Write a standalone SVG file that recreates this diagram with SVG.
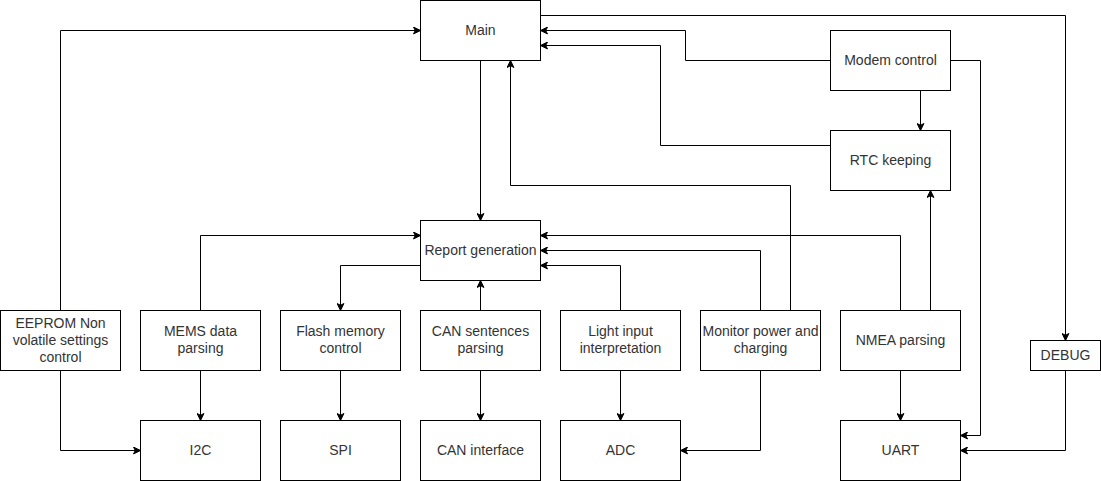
<svg xmlns="http://www.w3.org/2000/svg" width="1101" height="481" viewBox="0 0 1101 481">
<style>
.box{fill:#fff;stroke:#000;stroke-width:1}
.lbl{font-family:"Liberation Sans",Arial,Helvetica,sans-serif;font-size:14px;fill:#333;text-anchor:middle}
.edge{fill:none;stroke:#000;stroke-width:1;marker-end:url(#arr)}
</style>
<defs>
<marker id="arr" viewBox="0 0 8 8" refX="7.5" refY="4" markerWidth="8" markerHeight="8" markerUnits="userSpaceOnUse" orient="auto">
<path d="M0.5,0.6 L7.5,4 L0.5,7.4 L2.3,4 Z" fill="#000" stroke="#000" stroke-width="1"/>
</marker>
</defs>
<rect width="1101" height="481" fill="#fff"/>
<g transform="translate(0.5,0.5)">
<g id="connectors">
<path class="edge" d="M60,310 V30 H420"/>
<path class="edge" d="M540,15 H1065 V340"/>
<path class="edge" d="M830,60 H685 V30 H540"/>
<path class="edge" d="M830,145 H660 V45 H540"/>
<path class="edge" d="M920,90 V130"/>
<path class="edge" d="M950,60 H980 V435 H960"/>
<path class="edge" d="M480,60 V220"/>
<path class="edge" d="M790,310 V185 H510 V60"/>
<path class="edge" d="M930,310 V190"/>
<path class="edge" d="M900,310 V235 H540"/>
<path class="edge" d="M760,310 V250 H540"/>
<path class="edge" d="M620,310 V265 H540"/>
<path class="edge" d="M200,310 V235 H420"/>
<path class="edge" d="M420,265 H340 V310"/>
<path class="edge" d="M480,310 V280"/>
<path class="edge" d="M200,370 V420"/>
<path class="edge" d="M340,370 V420"/>
<path class="edge" d="M480,370 V420"/>
<path class="edge" d="M620,370 V420"/>
<path class="edge" d="M760,370 V450 H680"/>
<path class="edge" d="M900,370 V420"/>
<path class="edge" d="M1065,370 V450 H960"/>
<path class="edge" d="M60,370 V450 H140"/>
</g>
<g id="main"><rect class="box" x="420" y="0" width="120" height="60"/><text class="lbl" x="480" y="34">Main</text></g>
<g id="modem"><rect class="box" x="830" y="30" width="120" height="60"/><text class="lbl" x="890" y="64">Modem control</text></g>
<g id="rtc"><rect class="box" x="830" y="130" width="120" height="60"/><text class="lbl" x="890" y="164">RTC keeping</text></g>
<g id="report"><rect class="box" x="420" y="220" width="120" height="60"/><text class="lbl" x="480" y="254">Report generation</text></g>
<g id="eeprom"><rect class="box" x="0" y="310" width="120" height="60"/><text class="lbl" x="60" y="327">EEPROM Non</text><text class="lbl" x="60" y="344">volatile settings</text><text class="lbl" x="60" y="361">control</text></g>
<g id="mems"><rect class="box" x="140" y="310" width="120" height="60"/><text class="lbl" x="200" y="335.6">MEMS data</text><text class="lbl" x="200" y="352.4">parsing</text></g>
<g id="flash"><rect class="box" x="280" y="310" width="120" height="60"/><text class="lbl" x="340" y="335.6">Flash memory</text><text class="lbl" x="340" y="352.4">control</text></g>
<g id="cansent"><rect class="box" x="420" y="310" width="120" height="60"/><text class="lbl" x="480" y="335.6">CAN sentences</text><text class="lbl" x="480" y="352.4">parsing</text></g>
<g id="light"><rect class="box" x="560" y="310" width="120" height="60"/><text class="lbl" x="620" y="335.6">Light input</text><text class="lbl" x="620" y="352.4">interpretation</text></g>
<g id="monitor"><rect class="box" x="700" y="310" width="120" height="60"/><text class="lbl" x="760" y="335.6">Monitor power and</text><text class="lbl" x="760" y="352.4">charging</text></g>
<g id="nmea"><rect class="box" x="840" y="310" width="120" height="60"/><text class="lbl" x="900" y="344">NMEA parsing</text></g>
<g id="debug"><rect class="box" x="1030" y="340" width="70" height="30"/><text class="lbl" x="1065" y="359">DEBUG</text></g>
<g id="i2c"><rect class="box" x="140" y="420" width="120" height="60"/><text class="lbl" x="200" y="454">I2C</text></g>
<g id="spi"><rect class="box" x="280" y="420" width="120" height="60"/><text class="lbl" x="340" y="454">SPI</text></g>
<g id="caniface"><rect class="box" x="420" y="420" width="120" height="60"/><text class="lbl" x="480" y="454">CAN interface</text></g>
<g id="adc"><rect class="box" x="560" y="420" width="120" height="60"/><text class="lbl" x="620" y="454">ADC</text></g>
<g id="uart"><rect class="box" x="840" y="420" width="120" height="60"/><text class="lbl" x="900" y="454">UART</text></g>
</g>
</svg>
